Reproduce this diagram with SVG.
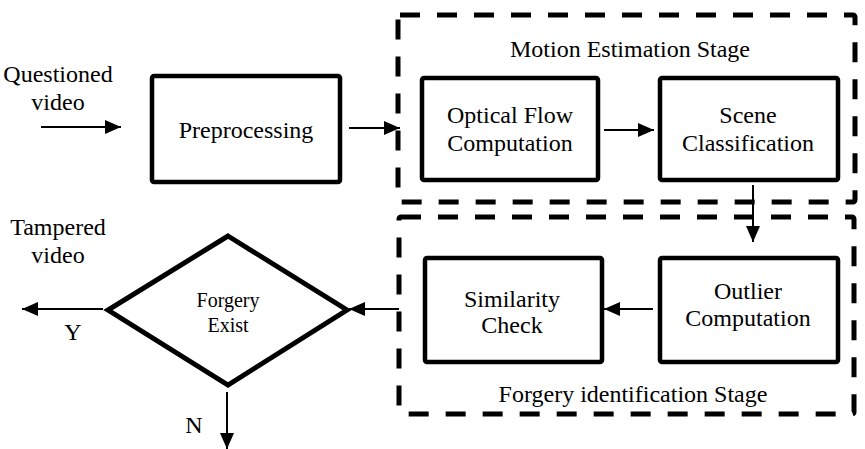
<svg xmlns="http://www.w3.org/2000/svg" width="865" height="449" viewBox="0 0 865 449">
<style>
text{font-family:"Liberation Serif","Times New Roman",serif;fill:#000;text-anchor:middle}
.t{font-size:24px}
.s{font-size:20px}
.box{fill:#fff;stroke:#000;stroke-width:4.5;stroke-linejoin:round}
.stage{fill:none;stroke:#000;stroke-width:5;stroke-dasharray:20 17}
.c{stroke:#000;stroke-width:2;fill:none}
</style>
<defs>
<marker id="ah" viewBox="0 0 16 14" refX="16" refY="7" markerWidth="16" markerHeight="14" markerUnits="userSpaceOnUse" orient="auto">
<path d="M0,0 L16,7 L0,14 Z" fill="#000"/>
</marker>
</defs>
<rect width="865" height="449" fill="#fff"/>

<g id="stage-motion">
<rect class="stage" x="398" y="15" width="457" height="187" rx="2"/>
<text class="t" x="630" y="57">Motion Estimation Stage</text>
</g>
<g id="stage-forgery">
<rect class="stage" x="399" y="217" width="455" height="197" rx="2"/>
<text class="t" x="633" y="402">Forgery identification Stage</text>
</g>

<g id="input-label">
<text class="t" x="58" y="82">Questioned</text>
<text class="t" x="58" y="110">video</text>
</g>
<g id="preprocessing">
<rect class="box" x="152" y="76" width="188" height="106" rx="2"/>
<text class="t" x="246" y="138">Preprocessing</text>
</g>
<g id="optical-flow">
<rect class="box" x="422" y="78" width="176" height="102" rx="2"/>
<text class="t" x="510" y="123">Optical Flow</text>
<text class="t" x="510" y="151">Computation</text>
</g>
<g id="scene-classification">
<rect class="box" x="660" y="78" width="178" height="102" rx="2"/>
<text class="t" x="748" y="123">Scene</text>
<text class="t" x="748" y="151">Classification</text>
</g>
<g id="outlier">
<rect class="box" x="660" y="258" width="178" height="104" rx="2"/>
<text class="t" x="748" y="299">Outlier</text>
<text class="t" x="748" y="326">Computation</text>
</g>
<g id="similarity">
<rect class="box" x="425" y="258" width="177" height="104" rx="2"/>
<text class="t" x="512" y="307">Similarity</text>
<text class="t" x="512" y="333">Check</text>
</g>
<g id="forgery-exist">
<polygon points="228,236 347,310 228,385 108,310" fill="#fff" stroke="#000" stroke-width="5" stroke-linejoin="miter"/>
<text class="s" x="228" y="307">Forgery</text>
<text class="s" x="228" y="332">Exist</text>
</g>
<g id="output-label">
<text class="t" x="58" y="235">Tampered</text>
<text class="t" x="58" y="263">video</text>
<text class="t" x="73" y="340">Y</text>
<text class="t" x="194" y="433">N</text>
</g>

<g id="connectors">
<line class="c" x1="41" y1="127" x2="121" y2="127" marker-end="url(#ah)"/>
<line class="c" x1="349" y1="128" x2="400" y2="128" marker-end="url(#ah)"/>
<line class="c" x1="604" y1="130" x2="654" y2="130" marker-end="url(#ah)"/>
<line class="c" x1="753" y1="185" x2="753" y2="242" marker-end="url(#ah)"/>
<line class="c" x1="653" y1="309" x2="604" y2="309" marker-end="url(#ah)"/>
<line class="c" x1="399" y1="309" x2="349" y2="309" marker-end="url(#ah)"/>
<line class="c" x1="103" y1="309" x2="22" y2="309" marker-end="url(#ah)"/>
<line class="c" x1="227" y1="392" x2="227" y2="449" marker-end="url(#ah)"/>
</g>
</svg>
